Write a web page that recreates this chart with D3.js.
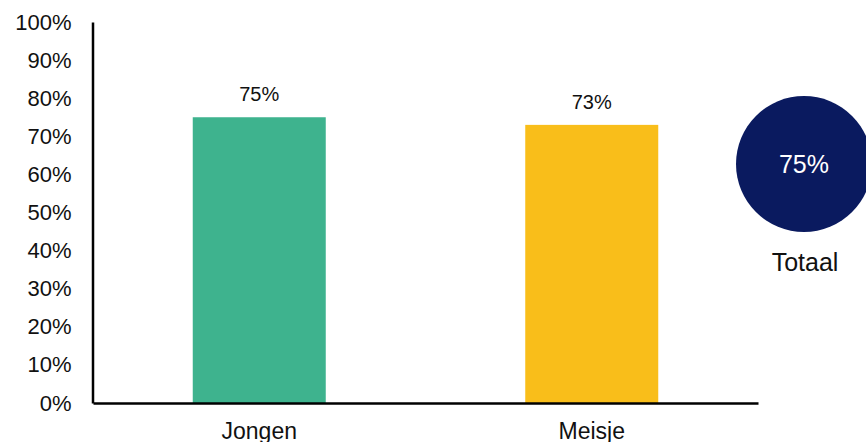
<!DOCTYPE html>
<html>
<head>
<meta charset="utf-8">
<script src="https://cdn.jsdelivr.net/npm/d3@7"></script>
<style>
    body { margin: 0; background: #fff; }
    svg { display: block; font-family: 'Liberation Sans', Arial, sans-serif; }
</style>
</head>
<body>
<svg width="866" height="442"></svg>
<script>
'use strict';

const CATEGORIES = ['Jongen', 'Meisje'];
const VALUES = [0.75, 0.73];
const COLORS = ['#3eb38e', '#f9be1a'];
const TICKS = [0, 0.1, 0.2, 0.3, 0.4, 0.5, 0.6, 0.7, 0.8, 0.9, 1];
const TOTAL_LABEL = 'Totaal';
const TOTAL_VALUE = 0.75;

const svg = d3.select('svg');
const fmt = d3.format('.0%');

// scales
const x = d3.scaleBand()
    .domain(CATEGORIES)
    .range([93, 758])
    .paddingInner(0.6)
    .paddingOuter(0.3);

const y = d3.scaleLinear()
    .domain([0, 1])
    .range([403, 22]);

// bars
svg.selectAll('rect.bar')
    .data(CATEGORIES)
    .join('rect')
    .attr('class', 'bar')
    .attr('x', (d) => x(d))
    .attr('width', x.bandwidth())
    .attr('y', (d, i) => y(VALUES[i]))
    .attr('height', (d, i) => y(0) - y(VALUES[i]))
    .attr('fill', (d, i) => COLORS[i]);

// value labels
svg.selectAll('text.val')
    .data(CATEGORIES)
    .join('text')
    .attr('class', 'val')
    .attr('x', (d) => x(d) + x.bandwidth() / 2)
    .attr('y', (d, i) => y(VALUES[i]) - 16)
    .attr('text-anchor', 'middle')
    .attr('font-size', 20)
    .attr('fill', '#111')
    .text((d, i) => fmt(VALUES[i]));

// y axis
const yAxis = svg.append('g')
    .attr('transform', 'translate(92.5,0)')
    .call(d3.axisLeft(y).tickValues(TICKS).tickFormat(fmt).tickSize(0).tickPadding(21));
yAxis.select('.domain').attr('stroke', '#000').attr('stroke-width', 2.5);
yAxis.selectAll('text').attr('font-size', 22).attr('fill', '#111').attr('font-family', null);

// x axis
const xAxis = svg.append('g')
    .attr('transform', 'translate(0,403)')
    .call(d3.axisBottom(x).tickSize(0).tickPadding(20));
xAxis.select('.domain').attr('stroke', '#000').attr('stroke-width', 2.5);
xAxis.selectAll('text').attr('font-size', 23).attr('fill', '#111').attr('font-family', null);

// total circle
svg.append('circle')
    .attr('cx', 804)
    .attr('cy', 164)
    .attr('r', 68)
    .attr('fill', '#0a1a5f');

svg.append('text')
    .attr('x', 804)
    .attr('y', 164)
    .attr('dy', '0.35em')
    .attr('text-anchor', 'middle')
    .attr('font-size', 25)
    .attr('fill', '#fff')
    .text(fmt(TOTAL_VALUE));

svg.append('text')
    .attr('x', 805)
    .attr('y', 262)
    .attr('dy', '0.35em')
    .attr('text-anchor', 'middle')
    .attr('font-size', 25)
    .attr('fill', '#111')
    .text(TOTAL_LABEL);
</script>
</body>
</html>
